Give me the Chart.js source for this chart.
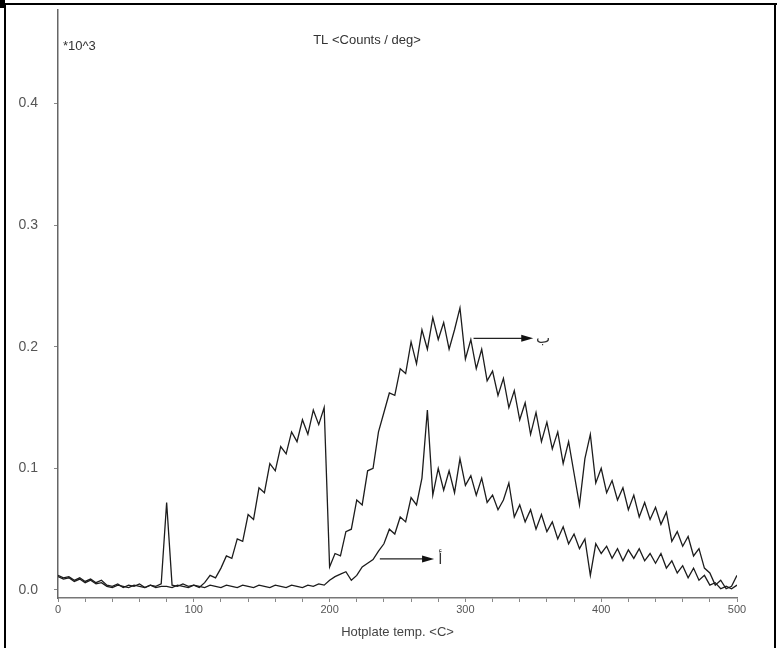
<!DOCTYPE html>
<html>
<head>
<meta charset="utf-8">
<script src="https://cdn.jsdelivr.net/npm/chart.js@4"></script>
<style>
  html, body { margin: 0; padding: 0; background: #fff; }
  #wrap { position: relative; width: 777px; height: 648px; overflow: hidden; }
  #wrap canvas { position: absolute; left: 0; top: 0; }
  .edge { position: absolute; background: #000; }
</style>
</head>
<body>
<div id="wrap">
  <canvas id="c" width="777" height="648"></canvas>
  <div class="edge" style="left:0;top:3px;width:777px;height:2px;"></div>
  <div class="edge" style="left:4px;top:3px;width:2px;height:645px;"></div>
  <div class="edge" style="left:774px;top:3px;width:2px;height:645px;"></div>
  <div class="edge" style="left:0;top:0;width:5px;height:8px;"></div>
</div>
<script>
// ---- data ----
const temps = [
  0,4,8,12,16,20,24,28,32,36,
  40,44,48,52,56,60,64,68,72,76,
  80,84,88,92,96,100,104,108,112,116,
  120,124,128,132,136,140,144,148,152,156,
  160,164,168,172,176,180,184,188,192,196,
  200,204,208,212,216,220,224,228,232,236,
  240,244,248,252,256,260,264,268,272,276,
  280,284,288,292,296,300,304,308,312,316,
  320,324,328,332,336,340,344,348,352,356,
  360,364,368,372,376,380,384,388,392,396,
  400,404,408,412,416,420,424,428,432,436,
  440,444,448,452,456,460,464,468,472,476,
  480,484,488,492,496,500
];
// curve "ب" (upper, two peaks)
const seriesB = [
  0.012,0.010,0.011,0.008,0.010,0.007,0.009,0.006,0.008,0.004,
  0.003,0.005,0.002,0.004,0.003,0.005,0.002,0.004,0.003,0.005,
  0.072,0.004,0.003,0.005,0.003,0.004,0.002,0.006,0.012,0.010,
  0.018,0.028,0.026,0.042,0.040,0.062,0.058,0.084,0.080,0.104,
  0.098,0.118,0.112,0.130,0.122,0.140,0.128,0.148,0.136,0.150,
  0.019,0.030,0.028,0.048,0.050,0.074,0.070,0.098,0.100,0.130,
  0.146,0.162,0.160,0.182,0.178,0.204,0.186,0.214,0.198,0.224,
  0.206,0.220,0.198,0.214,0.232,0.190,0.206,0.182,0.198,0.172,
  0.180,0.160,0.174,0.150,0.164,0.140,0.154,0.128,0.146,0.122,
  0.138,0.116,0.130,0.104,0.122,0.096,0.070,0.108,0.128,0.088,
  0.100,0.080,0.090,0.074,0.084,0.066,0.078,0.060,0.072,0.058,
  0.068,0.054,0.064,0.040,0.048,0.036,0.044,0.028,0.034,0.018,
  0.014,0.004,0.008,0.001,0.003,0.012
];
// curve "أ" (lower)
const seriesA = [
  0.011,0.009,0.010,0.007,0.009,0.006,0.008,0.005,0.006,0.003,
  0.002,0.004,0.003,0.002,0.004,0.003,0.002,0.004,0.002,0.003,
  0.003,0.002,0.004,0.003,0.002,0.004,0.003,0.002,0.004,0.003,
  0.002,0.004,0.003,0.002,0.004,0.003,0.002,0.004,0.003,0.002,
  0.004,0.003,0.002,0.004,0.003,0.002,0.004,0.003,0.005,0.004,
  0.008,0.011,0.013,0.015,0.008,0.012,0.019,0.022,0.025,0.032,
  0.038,0.050,0.046,0.060,0.056,0.076,0.070,0.092,0.148,0.078,
  0.100,0.082,0.098,0.080,0.108,0.086,0.094,0.078,0.092,0.072,
  0.078,0.066,0.074,0.088,0.060,0.070,0.056,0.066,0.050,0.062,
  0.048,0.056,0.042,0.052,0.038,0.046,0.034,0.042,0.012,0.038,
  0.030,0.036,0.026,0.034,0.024,0.033,0.026,0.034,0.024,0.030,
  0.022,0.030,0.018,0.024,0.014,0.020,0.010,0.018,0.008,0.012,
  0.004,0.006,0.001,0.003,0.001,0.004
];
const xTickMarks = [0,20,40,60,80,100,120,140,160,180,200,220,240,260,280,300,320,340,360,380,400,420,440,460,480,500];
const xTickLabels = [0,100,200,300,400,500];
const yTicks = [0,0.1,0.2,0.3,0.4];
// annotation arrows: [startT, endT, value, labelT, label]
const arrowB = [306, 347, 0.207, 352, 'ب'];
const arrowA = [237, 274, 0.0255, 280, 'أ'];
const topTitle = 'TL <Counts / deg>';
const unitLabel = '*10^3';
const xTitle = 'Hotplate temp. <C>';

const ink = '#1c1c1c';

const textPlugin = {
  id: 'overlayText',
  afterDatasetsDraw(chart) {
    const ctx = chart.ctx;
    const xs = chart.scales.x, ys = chart.scales.y;
    ctx.save();
    ctx.fillStyle = '#333';
    ctx.font = '13px "Liberation Sans", Arial, sans-serif';
    ctx.textBaseline = 'middle';
    ctx.textAlign = 'center';
    ctx.fillText(topTitle, 367, 40);
    ctx.textAlign = 'left';
    ctx.fillText(unitLabel, 63, 46);
    [arrowB, arrowA].forEach(a => {
      const x1 = xs.getPixelForValue(a[0]);
      const x2 = xs.getPixelForValue(a[1]);
      const y = ys.getPixelForValue(a[2]);
      ctx.strokeStyle = '#222';
      ctx.lineWidth = 1.3;
      ctx.beginPath();
      ctx.moveTo(x1, y); ctx.lineTo(x2, y);
      ctx.stroke();
      ctx.fillStyle = '#111';
      ctx.beginPath();
      ctx.moveTo(x2 + 4, y);
      ctx.lineTo(x2 - 8, y - 3.5);
      ctx.lineTo(x2 - 8, y + 3.5);
      ctx.closePath();
      ctx.fill();
      ctx.fillStyle = '#333';
      ctx.font = '15px "DejaVu Sans", sans-serif';
      ctx.textAlign = 'left';
      ctx.fillText(a[4], xs.getPixelForValue(a[3]), y + 1);
    });
    ctx.restore();
  }
};

new Chart(document.getElementById('c'), {
  type: 'line',
  data: {
    datasets: [
      {
        label: 'ب',
        data: temps.map((t, i) => ({ x: t, y: seriesB[i] })),
        borderColor: ink, borderWidth: 1.3, pointRadius: 0, tension: 0
      },
      {
        label: 'أ',
        data: temps.map((t, i) => ({ x: t, y: seriesA[i] })),
        borderColor: ink, borderWidth: 1.3, pointRadius: 0, tension: 0
      }
    ]
  },
  options: {
    responsive: false,
    animation: false,
    devicePixelRatio: 1,
    layout: { padding: { left: 0, right: 40, top: 10, bottom: 0 } },
    plugins: { legend: { display: false }, tooltip: { enabled: false } },
    scales: {
      x: {
        type: 'linear', min: 0, max: 500,
        afterFit(s) { s.height = 50; s.paddingLeft = 0; s.paddingRight = 0; },
        afterBuildTicks(s) { s.ticks = xTickMarks.map(v => ({ value: v })); },
        border: { display: true, color: '#777', width: 1.5 },
        grid: { drawOnChartArea: false, drawTicks: true, tickLength: 4, tickColor: '#888' },
        ticks: {
          autoSkip: false, maxRotation: 0, padding: 1,
          color: '#555', font: { size: 11, family: '"Liberation Sans", Arial, sans-serif' },
          callback: v => xTickLabels.includes(v) ? String(v) : ''
        },
        title: {
          display: true, text: xTitle, color: '#444',
          font: { size: 13, family: '"Liberation Sans", Arial, sans-serif' },
          padding: { top: 0, bottom: 8 }
        }
      },
      y: {
        type: 'linear', min: -0.0066, max: 0.477,
        afterFit(s) { s.width = 58; s.paddingTop = 0; s.paddingBottom = 0; },
        afterBuildTicks(s) { s.ticks = yTicks.map(v => ({ value: v })); },
        border: { display: true, color: '#666', width: 1.5, dash: [3, 3] },
        grid: { drawOnChartArea: false, drawTicks: true, tickLength: 4, tickColor: '#888' },
        ticks: {
          padding: 16, color: '#555',
          font: { size: 14, family: '"Liberation Sans", Arial, sans-serif' },
          callback: v => Number(v).toFixed(1)
        }
      }
    }
  },
  plugins: [textPlugin]
});
</script>
</body>
</html>
